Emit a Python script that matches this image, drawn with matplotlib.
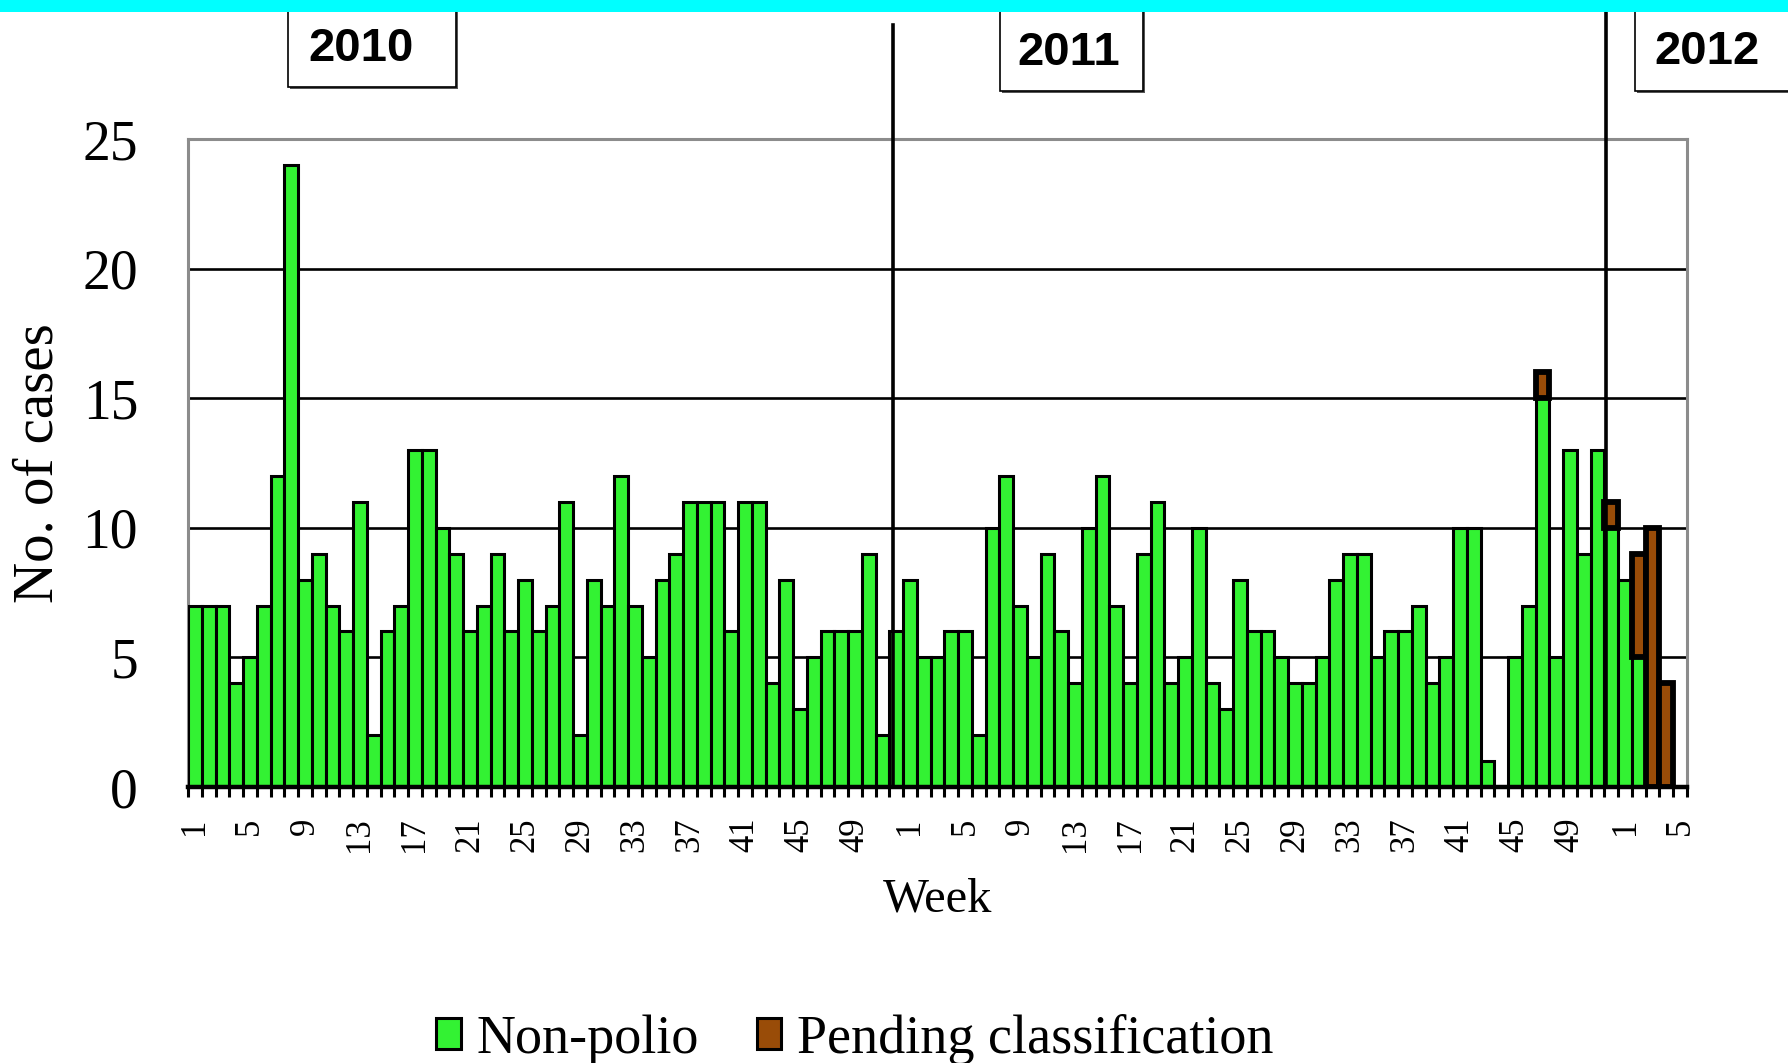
import matplotlib
matplotlib.use("Agg")
import matplotlib.pyplot as plt
from matplotlib.patches import Rectangle, Patch
import numpy as np

# ---- data ----
weeks_2010 = list(range(1, 53))
weeks_2011 = list(range(1, 53))
weeks_2012 = list(range(1, 6))

nonpolio_2010 = [7, 7, 7, 4, 5, 7, 12, 24, 8, 9, 7, 6, 11, 2, 6, 7, 13, 13, 10, 9,
                 6, 7, 9, 6, 8, 6, 7, 11, 2, 8, 7, 12, 7, 5, 8, 9, 11, 11, 11, 6,
                 11, 11, 4, 8, 3, 5, 6, 6, 6, 9, 2, 6]
nonpolio_2011 = [8, 5, 5, 6, 6, 2, 10, 12, 7, 5, 9, 6, 4, 10, 12, 7, 4, 9, 11, 4,
                 5, 10, 4, 3, 8, 6, 6, 5, 4, 4, 5, 8, 9, 9, 5, 6, 6, 7, 4, 5,
                 10, 10, 1, 0, 5, 7, 15, 5, 13, 9, 13, 10]
nonpolio_2012 = [8, 5, 0, 0, 0]

pending_2010 = [0] * 52
pending_2011 = [0] * 46 + [1] + [0] * 4 + [1]
pending_2012 = [0, 4, 10, 4, 0]

years = ["2010", "2011", "2012"]
week_labels = weeks_2010 + weeks_2011 + weeks_2012
nonpolio = np.array(nonpolio_2010 + nonpolio_2011 + nonpolio_2012)
pending = np.array(pending_2010 + pending_2011 + pending_2012)

GREEN = "#33F233"
BROWN = "#994C08"
GRAY = "#8C8C8C"
SERIF = ["Liberation Serif", "DejaVu Serif"]
SANS = ["Liberation Sans", "DejaVu Sans"]

W, H = 1788, 1063
fig = plt.figure(figsize=(W / 100, H / 100), dpi=100)
ax = fig.add_axes([188 / W, 1 - 787 / H, 1499 / W, 648 / H])

x = np.arange(len(nonpolio))
ax.bar(x, nonpolio, width=1.0, color=GREEN, edgecolor="black", linewidth=2.2, zorder=3)
mask = pending > 0
ax.bar(x[mask], pending[mask], bottom=nonpolio[mask], width=1.0, color=BROWN,
       edgecolor="black", linewidth=4.2, zorder=4)

ax.set_xlim(-0.5, len(x) - 0.5)
ax.set_ylim(0, 25)

# y axis
ax.set_yticks([0, 5, 10, 15, 20, 25])
ax.tick_params(axis="y", length=0, pad=36, labelsize=40)
for lab in ax.get_yticklabels():
    lab.set_family(SERIF)
ax.yaxis.grid(True, color="black", linewidth=1.9)
ax.set_axisbelow(True)

# x axis: labels every 4 weeks, tick marks on every category boundary
lab_pos = [i for i in range(len(x)) if (week_labels[i] - 1) % 4 == 0]
ax.set_xticks(lab_pos)
ax.set_xticklabels([str(week_labels[i]) for i in lab_pos], rotation=90,
                   family=SERIF, fontsize=25)
ax.tick_params(axis="x", which="major", length=0, pad=22)
ax.set_xticks(np.arange(-0.5, len(x), 1.0), minor=True)
ax.tick_params(axis="x", which="minor", length=7, width=2.2, color="black", direction="out")

for s in ["left", "top", "right"]:
    ax.spines[s].set_color(GRAY)
    ax.spines[s].set_linewidth(2.2)
ax.spines["bottom"].set_color("black")
ax.spines["bottom"].set_linewidth(3.2)
ax.spines["bottom"].set_zorder(5)

ax.set_ylabel("No. of cases", family=SERIF, fontsize=41, labelpad=13)
ax.set_xlabel("Week", family=SERIF, fontsize=35, labelpad=18)

# year separator lines (extend above the plot)
ax.axvline(50.75, ymin=0, ymax=(787 - 25) / 648, color="black", lw=2.6,
           clip_on=False, zorder=6)
ax.axvline(102.6, ymin=0, ymax=(787 - 12) / 648, color="black", lw=2.6,
           clip_on=False, zorder=6)

# cyan band at top
fig.add_artist(Rectangle((0, 1 - 12 / H), 1, 12 / H, transform=fig.transFigure,
                         facecolor="#00FFFF", edgecolor="none", zorder=10))

# year boxes
boxes = [(288, 7, 168, 80), (1000, 10, 143, 81), (1635, 10, 200, 81)]
centers = [(361, 49), (1069, 53), (1707, 52)]
for (bx, by, bw, bh), (cx, cy), yr in zip(boxes, centers, years):
    fig.add_artist(Rectangle(((bx + 2) / W, 1 - (by + bh + 2) / H), bw / W, bh / H,
                             transform=fig.transFigure, facecolor="#555555",
                             edgecolor="none", zorder=7))
    fig.add_artist(Rectangle((bx / W, 1 - (by + bh) / H), bw / W, bh / H,
                             transform=fig.transFigure, facecolor="white",
                             edgecolor="black", linewidth=1.2, zorder=8))
    fig.text(cx / W, 1 - cy / H, yr, ha="center", va="center", fontsize=34,
             fontweight="bold", family=SANS, zorder=9)

# legend
handles = [Patch(facecolor=GREEN, edgecolor="black", linewidth=2.2),
           Patch(facecolor=BROWN, edgecolor="black", linewidth=2.2)]
leg = fig.legend(handles, ["Non-polio", "Pending classification"], loc="center",
                 bbox_to_anchor=(0.478, 0.022), ncol=2, frameon=False,
                 prop={"family": SERIF, "size": 39}, handlelength=0.46,
                 handleheight=0.5, handletextpad=0.28, columnspacing=1.07)

fig.savefig("out.png", dpi=100)
